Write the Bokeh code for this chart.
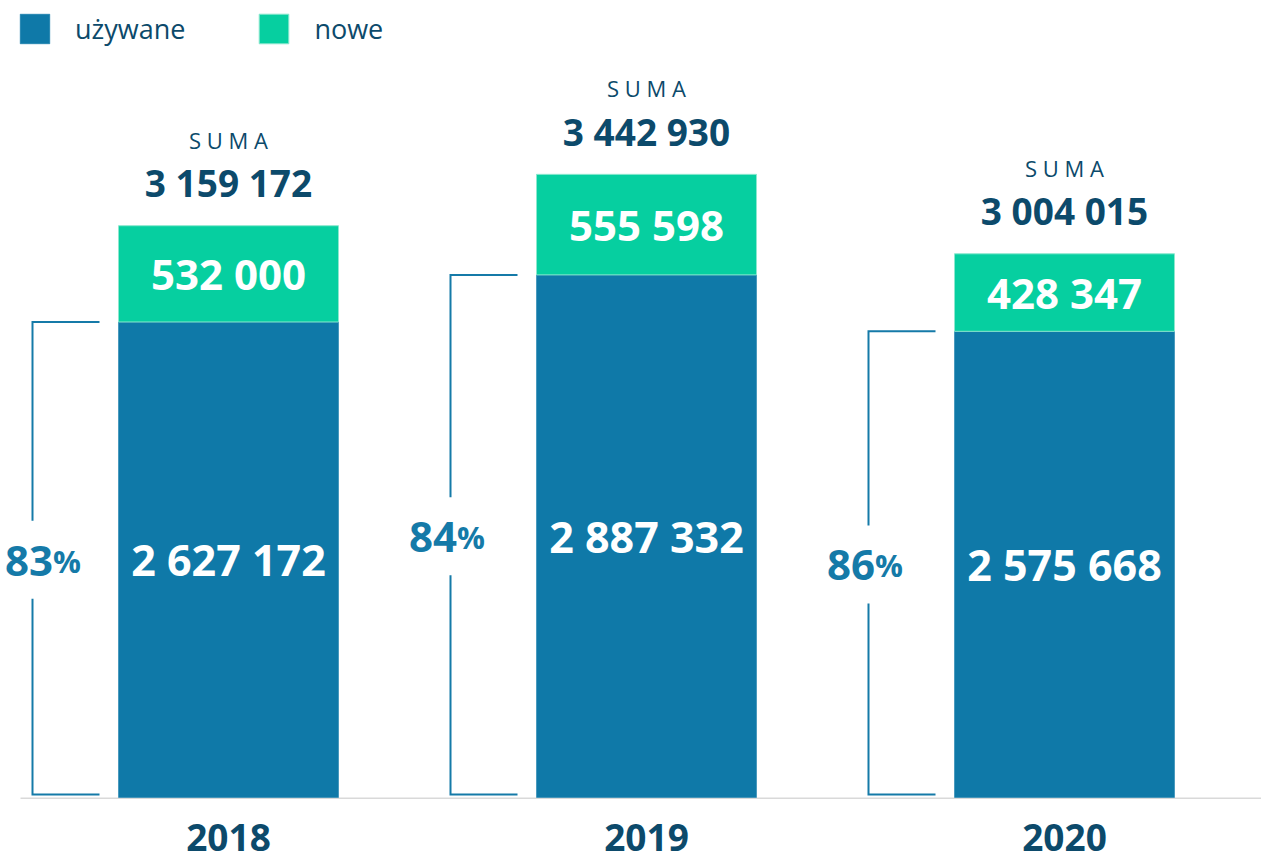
from bokeh.plotting import figure
from bokeh.models import ColumnDataSource, Range1d, Legend, LegendItem
from bokeh.core.properties import value
from bokeh.embed import file_html
from bokeh.resources import INLINE

# ---- data ----
years = ["2018", "2019", "2020"]
used = [2627172, 2887332, 2575668]
new = [532000, 555598, 428347]
totals = [3159172, 3442930, 3004015]
pct = [83, 84, 86]
series_labels = ["używane", "nowe"]
sum_label = "S U M A"

# ---- style ----
C_USED = "#0f79a8"
C_NEW = "#06cfa0"
C_NEW_EDGE = "#8ce8cf"
C_DARK = "#0c4a6b"
C_PCT = "#157aa8"
C_AXIS = "#d9d9d9"
FONT = "Open Sans"

W, H = 1261, 862
BASE = 797.0      # baseline, px from top
UPP = 5525.0      # value units per pixel
STEP = 418.0      # px between bar centres
X0 = 228.0        # px of first bar centre
BAR_W = 220.0 / STEP


def fmt(v):
    return f"{v:,}".replace(",", " ")


n = len(years)
xs = list(range(n))
tops = [u + nw for u, nw in zip(used, new)]
used_mid = [u / 2 for u in used]
new_mid = [(u + t) / 2 for u, t in zip(used, tops)]

# bracket geometry (px offsets converted to data units)
line_x = [x - 196.0 / STEP for x in xs]
tick_x = [x - 129.0 / STEP for x in xs]
gap = 39.0 * UPP
bot = 3.0 * UPP
min_split = (52.5 - X0) / STEP
pct_x = [max(lx + 6.5 / STEP, min_split) for lx in line_x]

src = ColumnDataSource(dict(
    x=xs, used=used, top=tops, used_mid=used_mid, new_mid=new_mid,
    used_lbl=[fmt(v) for v in used], new_lbl=[fmt(v) for v in new],
    tot=totals, tot_lbl=[fmt(v) for v in totals], suma=[sum_label] * n,
    years=years, zero=[0] * n, pct_x=pct_x,
    pct_num=[str(v) for v in pct], pct_sign=["%"] * n,
))

p = figure(width=W, height=H, output_backend="svg", toolbar_location=None,
           x_range=Range1d(-X0 / STEP, (W - X0) / STEP),
           y_range=Range1d(-(H - BASE) * UPP, BASE * UPP),
           x_axis_type=None, y_axis_type=None, min_border=0,
           outline_line_color=None, background_fill_color="white",
           border_fill_color="white")
p.grid.visible = False

# baseline
p.segment(x0=(20 - X0) / STEP, y0=-0.7 * UPP, x1=(W - X0) / STEP, y1=-0.7 * UPP,
          line_color=C_AXIS, line_width=1.5)

# bars
r_used = p.vbar(x="x", width=BAR_W, bottom=0, top="used", source=src,
                fill_color=C_USED, line_color=C_USED, line_width=0.5)
r_new = p.vbar(x="x", width=BAR_W, bottom="used", top="top", source=src,
               fill_color=C_NEW, line_color=C_NEW_EDGE, line_width=1)

# brackets
mx, my = [], []
for lx, tx, u, m in zip(line_x, tick_x, used, used_mid):
    mx.append([tx, lx, lx]); my.append([u, u, m + gap])
    mx.append([lx, lx, tx]); my.append([m - gap, bot, bot])
p.multi_line(xs=mx, ys=my, line_color=C_PCT, line_width=2, line_join="miter")

common = dict(text_font=value(FONT), text_font_style="bold", source=src)
p.text(x="x", y="new_mid", text="new_lbl", text_align="center", text_baseline="middle",
       text_color="white", text_font_size="42px", **common)
p.text(x="x", y="used_mid", text="used_lbl", text_align="center", text_baseline="middle",
       text_color="white", text_font_size="43px", **common)
p.text(x="x", y="tot", text="tot_lbl", text_align="center", text_baseline="middle",
       y_offset=-43, text_color=C_DARK, text_font_size="37px", **common)
p.text(x="x", y="tot", text="suma", text_align="center", text_baseline="middle",
       y_offset=-86, text_color=C_DARK, text_font_size="22px",
       text_font=value(FONT), source=src)
p.text(x="pct_x", y="used_mid", text="pct_num", text_align="right",
       text_baseline="alphabetic", y_offset=1, text_color=C_PCT,
       text_font_size="42px", **common)
p.text(x="pct_x", y="used_mid", text="pct_sign", text_align="left",
       text_baseline="alphabetic", y_offset=1, text_color=C_PCT,
       text_font_size="31px", **common)
p.text(x="x", y="zero", text="years", text_align="center", text_baseline="middle",
       y_offset=40, text_color=C_DARK, text_font_size="37px", **common)

legend = Legend(items=[LegendItem(label=series_labels[0], renderers=[r_used]),
                       LegendItem(label=series_labels[1], renderers=[r_new])],
                orientation="horizontal", location=(16, H - 47),
                glyph_width=37, glyph_height=37, label_standoff=22, spacing=70,
                padding=0, margin=0, border_line_color=None,
                background_fill_alpha=0, label_text_font=FONT,
                label_text_font_size="27px", label_text_color=C_DARK)
p.add_layout(legend)

open("out.html", "w").write(file_html(p, INLINE))
